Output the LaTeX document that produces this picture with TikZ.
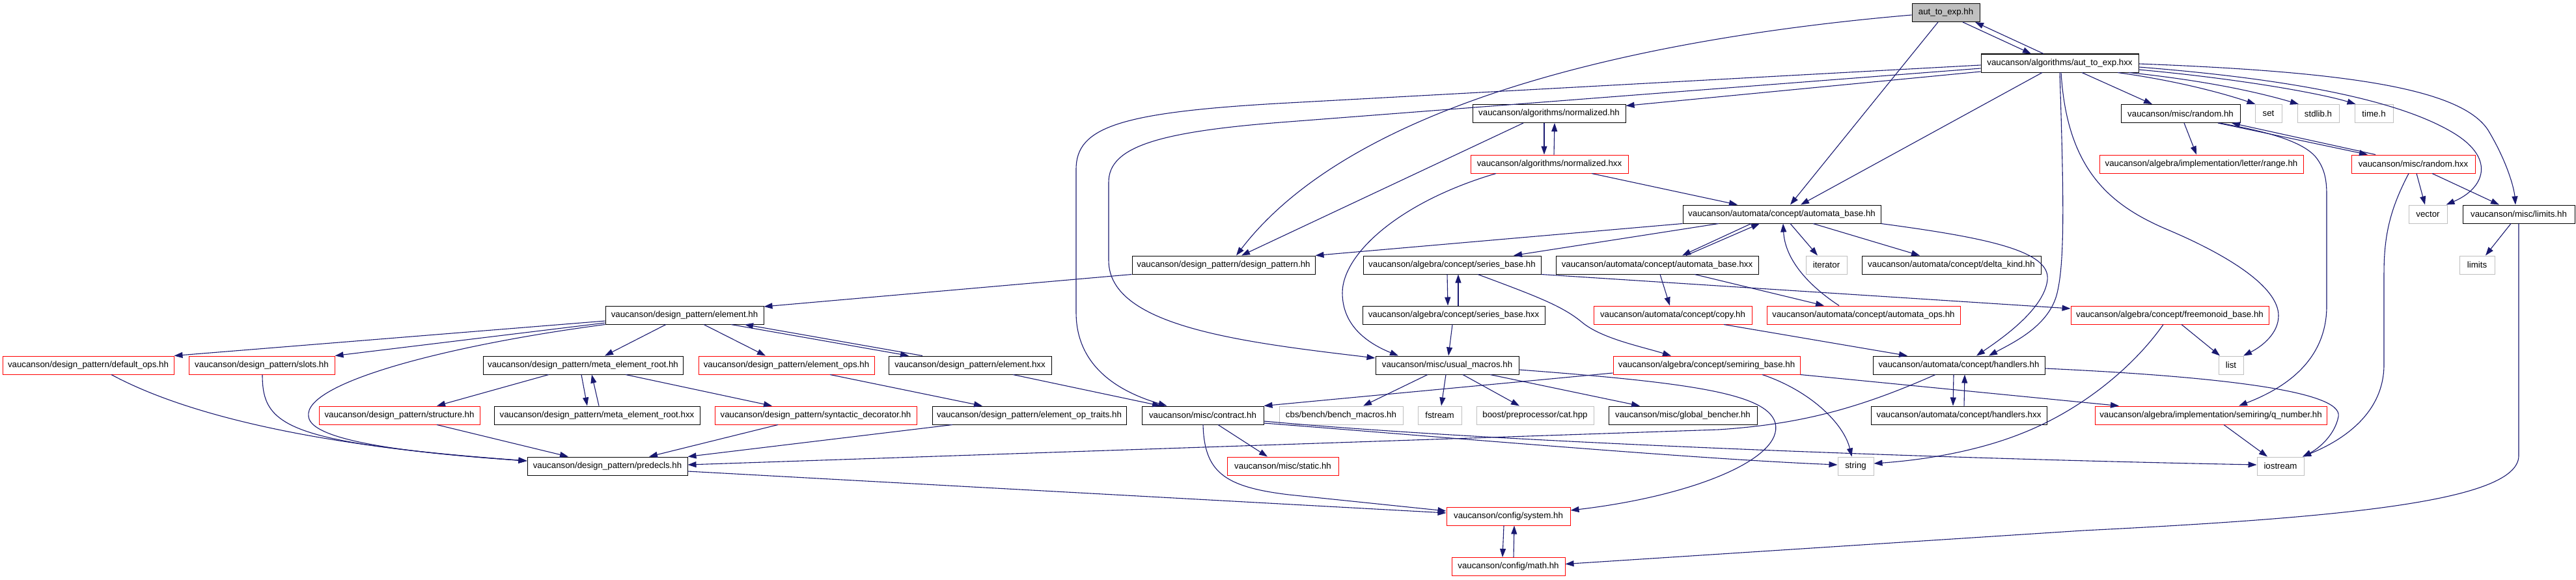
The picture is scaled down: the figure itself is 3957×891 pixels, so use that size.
\documentclass[tikz,border=0pt]{standalone}
\usepackage{fontspec}
\setmainfont{Liberation Sans}
\usetikzlibrary{arrows.meta}
\definecolor{edgec}{HTML}{191970}
\definecolor{dred}{HTML}{FF0000}
\definecolor{dgray}{HTML}{BFBFBF}
\newcommand\dxfont{\fontsize{13.3}{15}\selectfont}
\tikzset{
  box/.style={draw=black, line width=1pt, inner sep=0pt, minimum height=28pt, font=\dxfont, text=black},
  redbox/.style={box, draw=dred},
  graybox/.style={box, draw=dgray},
  rootbox/.style={box, fill=dgray},
  e/.style={draw=edgec, line width=1.1pt, -{Triangle[length=13pt,width=9pt]}}
}
\begin{document}
\begin{tikzpicture}[x=1pt,y=-1pt]
\useasboundingbox (0,0) rectangle (3957,891);
% rows
\def\Ra{19.5}\def\Rb{97}\def\Rc{174.5}\def\Rd{252}\def\Re{329}\def\Rf{407}
\def\Rg{484}\def\Rh{561}\def\Ri{638}\def\Rj{716}\def\Rk{793}\def\Rl{870.5}
% nodes
\node[rootbox, minimum width=104pt] (n0) at (2989,\Ra) {aut\_to\_exp.hh};
\node[box, minimum width=242pt] (n1) at (3164,\Rb) {vaucanson/algorithms/aut\_to\_exp.hxx};
\node[box, minimum width=235pt] (n2) at (2379.5,\Rc) {vaucanson/algorithms/normalized.hh};
\node[redbox, minimum width=242pt] (n3) at (2380,\Rd) {vaucanson/algorithms/normalized.hxx};
\node[box, minimum width=183pt] (n4) at (3349.5,\Rc) {vaucanson/misc/random.hh};
\node[graybox, minimum width=41pt] (n5) at (3484.5,\Rc) {set};
\node[graybox, minimum width=64pt] (n6) at (3561,\Rc) {stdlib.h};
\node[graybox, minimum width=59pt] (n7) at (3646.5,\Rc) {time.h};
\node[redbox, minimum width=313pt] (n8) at (3381.5,\Rd) {vaucanson/algebra/implementation/letter/range.hh};
\node[redbox, minimum width=190pt] (n9) at (3707,\Rd) {vaucanson/misc/random.hxx};
\node[box, minimum width=304pt] (n10) at (2737,\Re) {vaucanson/automata/concept/automata\_base.hh};
\node[graybox, minimum width=59pt] (n11) at (3729.5,\Re) {vector};
\node[box, minimum width=172pt] (n12) at (3869,\Re) {vaucanson/misc/limits.hh};
\node[box, minimum width=281pt] (n13) at (1879.5,\Rf) {vaucanson/design\_pattern/design\_pattern.hh};
\node[box, minimum width=273pt] (n14) at (2230.5,\Rf) {vaucanson/algebra/concept/series\_base.hh};
\node[box, minimum width=311pt] (n15) at (2545.5,\Rf) {vaucanson/automata/concept/automata\_base.hxx};
\node[graybox, minimum width=63pt] (n16) at (2805.5,\Rf) {iterator};
\node[box, minimum width=275pt] (n17) at (2997.5,\Rf) {vaucanson/automata/concept/delta\_kind.hh};
\node[graybox, minimum width=54pt] (n18) at (3805,\Rf) {limits};
\node[box, minimum width=243pt] (n19) at (1051.5,\Rg) {vaucanson/design\_pattern/element.hh};
\node[box, minimum width=280pt] (n20) at (2233,\Rg) {vaucanson/algebra/concept/series\_base.hxx};
\node[redbox, minimum width=243pt] (n21) at (2569.5,\Rg) {vaucanson/automata/concept/copy.hh};
\node[redbox, minimum width=297pt] (n22) at (2862.5,\Rg) {vaucanson/automata/concept/automata\_ops.hh};
\node[redbox, minimum width=304pt] (n23) at (3333,\Rg) {vaucanson/algebra/concept/freemonoid\_base.hh};
\node[redbox, minimum width=263pt] (n24) at (135.5,\Rh) {vaucanson/design\_pattern/default\_ops.hh};
\node[redbox, minimum width=224pt] (n25) at (402,\Rh) {vaucanson/design\_pattern/slots.hh};
\node[box, minimum width=307pt] (n26) at (895.5,\Rh) {vaucanson/design\_pattern/meta\_element\_root.hh};
\node[redbox, minimum width=270pt] (n27) at (1208,\Rh) {vaucanson/design\_pattern/element\_ops.hh};
\node[box, minimum width=250pt] (n28) at (1490,\Rh) {vaucanson/design\_pattern/element.hxx};
\node[box, minimum width=220pt] (n29) at (2223,\Rh) {vaucanson/misc/usual\_macros.hh};
\node[redbox, minimum width=287pt] (n30) at (2621.5,\Rh) {vaucanson/algebra/concept/semiring\_base.hh};
\node[box, minimum width=264pt] (n31) at (3009,\Rh) {vaucanson/automata/concept/handlers.hh};
\node[graybox, minimum width=38pt] (n32) at (3427,\Rh) {list};
\node[redbox, minimum width=247pt] (n33) at (613.5,\Ri) {vaucanson/design\_pattern/structure.hh};
\node[box, minimum width=316pt] (n34) at (917,\Ri) {vaucanson/design\_pattern/meta\_element\_root.hxx};
\node[redbox, minimum width=310pt] (n35) at (1253,\Ri) {vaucanson/design\_pattern/syntactic\_decorator.hh};
\node[box, minimum width=298pt] (n36) at (1581,\Ri) {vaucanson/design\_pattern/element\_op\_traits.hh};
\node[box, minimum width=187pt] (n37) at (1847.5,\Ri) {vaucanson/misc/contract.hh};
\node[graybox, minimum width=190pt] (n38) at (2060,\Ri) {cbs/bench/bench\_macros.hh};
\node[graybox, minimum width=67pt] (n39) at (2211.5,\Ri) {fstream};
\node[graybox, minimum width=180pt] (n40) at (2358,\Ri) {boost/preprocessor/cat.hpp};
\node[box, minimum width=228pt] (n41) at (2585,\Ri) {vaucanson/misc/global\_bencher.hh};
\node[box, minimum width=270pt] (n42) at (3009,\Ri) {vaucanson/automata/concept/handlers.hxx};
\node[redbox, minimum width=356pt] (n43) at (3396,\Ri) {vaucanson/algebra/implementation/semiring/q\_number.hh};
\node[box, minimum width=246pt] (n44) at (933,\Rj) {vaucanson/design\_pattern/predecls.hh};
\node[redbox, minimum width=171pt] (n45) at (1970.5,\Rj) {vaucanson/misc/static.hh};
\node[graybox, minimum width=55pt] (n46) at (2850.5,\Rj) {string};
\node[graybox, minimum width=72pt] (n47) at (3503,\Rj) {iostream};
\node[redbox, minimum width=190pt] (n48) at (2317,\Rk) {vaucanson/config/system.hh};
\node[redbox, minimum width=174pt] (n49) at (2317,\Rl) {vaucanson/config/math.hh};
% edges
\draw[e] ([xshift=26pt]n0.south) -- ([xshift=-44pt]n1.north);
\draw[e] ([xshift=-25pt]n1.north) -- ([xshift=45pt]n0.south);
\draw[e] ([yshift=-3.5pt]n0.west) .. controls (2620,50) and (2100,130) .. ([xshift=19.5pt]n13.north);
\draw[e] ([xshift=-12pt]n0.south) -- ([xshift=13pt]n10.north);
\draw[e] ([xshift=-27pt]n1.south) -- ([xshift=29pt]n10.north);
\draw[e] ([yshift=-13pt]n1.west) -- ([yshift=12pt]n2.east);
\draw[e] ([yshift=-3pt]n1.west) -- (1980,158) .. controls (1720,172) and (1653,195) .. (1653,260) -- (1653,480) .. controls (1653,570) and (1730,605) .. ([xshift=-55pt]n37.north);
\draw[e] ([yshift=-8pt]n1.west) -- (1980,187) .. controls (1780,202) and (1703,225) .. (1703,280) -- (1703,400) .. controls (1703,500) and (1900,525) .. ([yshift=11pt]n29.west);
\draw[e] (n1.south) .. controls (3170,300) and (3172,400) .. (3160,450) .. controls (3148,500) and (3095,525) .. ([xshift=46pt]n31.north);
\draw[e] (n10.south east) .. controls (3050,365) and (3150,385) .. (3145,430) .. controls (3140,475) and (3075,520) .. ([xshift=27pt]n31.north);
\draw[e] ([xshift=34pt]n1.south) -- ([xshift=-43.5pt]n4.north);
\draw[e] ([xshift=89pt]n1.south) .. controls (3350,125) and (3420,145) .. ([xshift=-20pt]n5.north);
\draw[e] ([xshift=106pt]n1.south) .. controls (3400,125) and (3480,145) .. ([xshift=-30pt]n6.north);
\draw[e] ([yshift=-10pt]n1.east) .. controls (3450,122) and (3570,145) .. ([xshift=-28pt]n7.north);
\draw[e] ([yshift=-6pt]n1.east) .. controls (3500,120) and (3680,150) .. (3770,205) .. controls (3835,245) and (3815,290) .. ([xshift=28pt]n11.north);
\draw[e] ([yshift=-1pt]n1.east) .. controls (3600,110) and (3780,135) .. (3822,200) .. controls (3852,250) and (3862,290) .. ([xshift=-5pt]n12.north);
\draw[e] ([xshift=2pt]n1.south) .. controls (3175,260) and (3240,315) .. (3330,353) .. controls (3420,391) and (3500,440) .. (3500,485) .. controls (3500,512) and (3475,532) .. ([xshift=19pt]n32.north);
\draw[e] ([xshift=-7.5pt]n2.south) -- ([xshift=-8pt]n3.north);
\draw[e] ([xshift=7pt]n3.north) -- ([xshift=8.5pt]n2.south);
\draw[e] ([xshift=-39.5pt]n2.south) -- ([xshift=27.5pt]n13.north);
\draw[e] ([xshift=65pt]n3.south) -- ([xshift=-68pt]n10.north);
\draw[e] ([xshift=-82pt]n3.south) .. controls (2150,310) and (2062,390) .. (2062,450) .. controls (2062,500) and (2100,527) .. ([xshift=-75pt]n29.north);
\draw[e] ([xshift=5.5pt]n4.south) -- ([xshift=-7.5pt]n8.north);
\draw[e] ([xshift=57.5pt]n4.south) -- ([xshift=-70pt]n9.north);
\draw[e] ([xshift=-58pt]n9.north) -- ([xshift=78.5pt]n4.south);
\draw[e] ([xshift=60pt]n4.south) .. controls (3470,200) and (3540,215) .. (3560,245) .. controls (3572,262) and (3574,280) .. (3574,300) -- (3574,470) .. controls (3574,560) and (3500,600) .. ([xshift=43pt]n43.north);
\draw[e] ([xshift=5pt]n9.south) -- ([xshift=-4.5pt]n11.north);
\draw[e] ([xshift=29pt]n9.south) -- ([xshift=-30pt]n12.north);
\draw[e] ([xshift=-7pt]n9.south) .. controls (3672,320) and (3662,360) .. (3662,420) -- (3662,560) .. controls (3662,640) and (3590,680) .. ([xshift=34pt]n47.north);
\draw[e] ([xshift=-12pt]n12.south) -- ([xshift=13pt]n18.north);
\draw[e] (n12.south) -- (3869,700) .. controls (3869,770) and (3600,795) .. (3200,815) -- ([yshift=4pt]n49.east);
\draw[e] (n10.south west) -- (n13.north east);
\draw[e] ([xshift=-97pt]n10.south) -- ([xshift=94.5pt]n14.north);
\draw[e] ([xshift=-47pt]n10.south) -- ([xshift=38.5pt]n15.north);
\draw[e] ([xshift=44.5pt]n15.north) -- ([xshift=-34pt]n10.south);
\draw[e] ([xshift=13pt]n10.south) -- ([xshift=-13.5pt]n16.north);
\draw[e] ([xshift=48pt]n10.south) -- ([xshift=-48.5pt]n17.north);
\draw[e] ([xshift=-37.5pt]n22.north) .. controls (2780,440) and (2742,400) .. ([xshift=2pt]n10.south);
\draw[e] ([xshift=57.5pt]n15.south) -- ([xshift=-60.5pt]n22.north);
\draw[e] ([xshift=4.5pt]n15.south) -- ([xshift=-4.5pt]n21.north);
\draw[e] ([xshift=-7.5pt]n14.south) -- ([xshift=-9pt]n20.north);
\draw[e] ([xshift=7pt]n20.north) -- ([xshift=9.5pt]n14.south);
\draw[e] ([xshift=39.5pt]n14.south) .. controls (2360,455) and (2400,470) .. (2430,495) .. controls (2460,520) and (2520,532) .. ([xshift=-54.5pt]n30.north);
\draw[e] (n14.south east) -- ([yshift=10pt]n23.west);
\draw[e] ([xshift=-2pt]n20.south) -- ([xshift=2pt]n29.north);
\draw[e] (n13.south west) -- ([yshift=13pt]n19.east);
\draw[e] ([yshift=-9pt]n19.west) -- (n24.north east);
\draw[e] ([yshift=-12pt]n19.west) -- (n25.north east);
\draw[e] (n19.south west) .. controls (690,530) and (465,588) .. (474,640) .. controls (478,680) and (650,697) .. ([yshift=8pt]n44.west);
\draw[e] ([xshift=35.5pt]n24.south) .. controls (300,645) and (520,688) .. ([yshift=8pt]n44.west);
\draw[e] ([xshift=1pt]n25.south) .. controls (403,655) and (440,680) .. ([yshift=8pt]n44.west);
\draw[e] ([xshift=-28.5pt]n19.south) -- ([xshift=33.5pt]n26.north);
\draw[e] ([xshift=29.5pt]n19.south) -- ([xshift=-32pt]n27.north);
\draw[e] ([xshift=71.5pt]n19.south) -- ([xshift=-94pt]n28.north);
\draw[e] ([xshift=-73pt]n28.north) -- ([xshift=92.5pt]n19.south);
\draw[e] ([xshift=-52.5pt]n26.south) -- ([xshift=57.5pt]n33.north);
\draw[e] ([xshift=-2.5pt]n26.south) -- ([xshift=-15pt]n34.north);
\draw[e] ([xshift=3pt]n34.north) -- ([xshift=13.5pt]n26.south);
\draw[e] ([xshift=65.5pt]n26.south) -- ([xshift=-67pt]n35.north);
\draw[e] ([xshift=57.5pt]n33.south) -- ([xshift=-60pt]n44.north);
\draw[e] ([xshift=-58pt]n35.south) -- ([xshift=64pt]n44.north);
\draw[e] ([xshift=67pt]n27.south) -- ([xshift=-72pt]n36.north);
\draw[e] ([xshift=-118pt]n36.south) -- (n44.north east);
\draw[e] ([xshift=-36pt]n31.south) .. controls (2850,630) and (2760,652) .. (2640,660) -- ([yshift=2pt]n44.east);
\draw[e] ([yshift=-8pt]n44.east) -- ([yshift=5pt]n48.west);
\draw[e] ([xshift=66pt]n28.south) -- ([xshift=-64.5pt]n37.north);
\draw[e] ([xshift=23.5pt]n37.south) -- ([xshift=-23.5pt]n45.north);
\draw[e] ([xshift=0.5pt]n37.south) .. controls (1850,725) and (1880,748) .. (1980,760) -- ([yshift=8pt]n48.west);
\draw[e] ([yshift=-12pt]n37.east) .. controls (2200,670) and (2600,705) .. ([yshift=2pt]n46.west);
\draw[e] ([yshift=-9pt]n37.east) .. controls (2300,680) and (3000,705) .. ([yshift=2pt]n47.west);
\draw[e] ([xshift=-30pt]n29.south) -- ([xshift=34pt]n38.north);
\draw[e] ([xshift=-2pt]n29.south) -- ([xshift=2.5pt]n39.north);
\draw[e] ([xshift=24pt]n29.south) -- ([xshift=-24pt]n40.north);
\draw[e] ([xshift=66pt]n29.south) -- ([xshift=-66pt]n41.north);
\draw[e] ([yshift=-7pt]n29.east) .. controls (2600,588) and (2715,605) .. (2727,650) .. controls (2740,705) and (2600,762) .. ([yshift=9pt]n48.east);
\draw[e] ([yshift=-12pt]n30.west) -- (n37.north east);
\draw[e] (n30.south east) -- ([xshift=-141pt]n43.north);
\draw[e] ([xshift=85.5pt]n30.south) .. controls (2780,600) and (2832,650) .. ([xshift=-6pt]n46.north);
\draw[e] ([xshift=78.5pt]n21.south) -- ([xshift=-79pt]n31.north);
\draw[e] ([xshift=-8pt]n31.south) -- ([xshift=-9pt]n42.north);
\draw[e] ([xshift=8pt]n42.north) -- ([xshift=9pt]n31.south);
\draw[e] ([yshift=-5pt]n31.east) .. controls (3400,578) and (3600,600) .. (3592,640) .. controls (3586,670) and (3560,690) .. ([xshift=34pt]n47.north);
\draw[e] ([xshift=18pt]n23.south) -- ([xshift=-17pt]n32.north);
\draw[e] ([xshift=-10pt]n23.south) .. controls (3280,560) and (3200,630) .. (3100,668) .. controls (3030,695) and (2950,707) .. ([yshift=4pt]n46.east);
\draw[e] ([xshift=20pt]n43.south) -- ([xshift=-20pt]n47.north);
\draw[e] ([xshift=-7pt]n48.south) -- ([xshift=-9pt]n49.north);
\draw[e] ([xshift=8pt]n49.north) -- ([xshift=9pt]n48.south);
\end{tikzpicture}
\end{document}
